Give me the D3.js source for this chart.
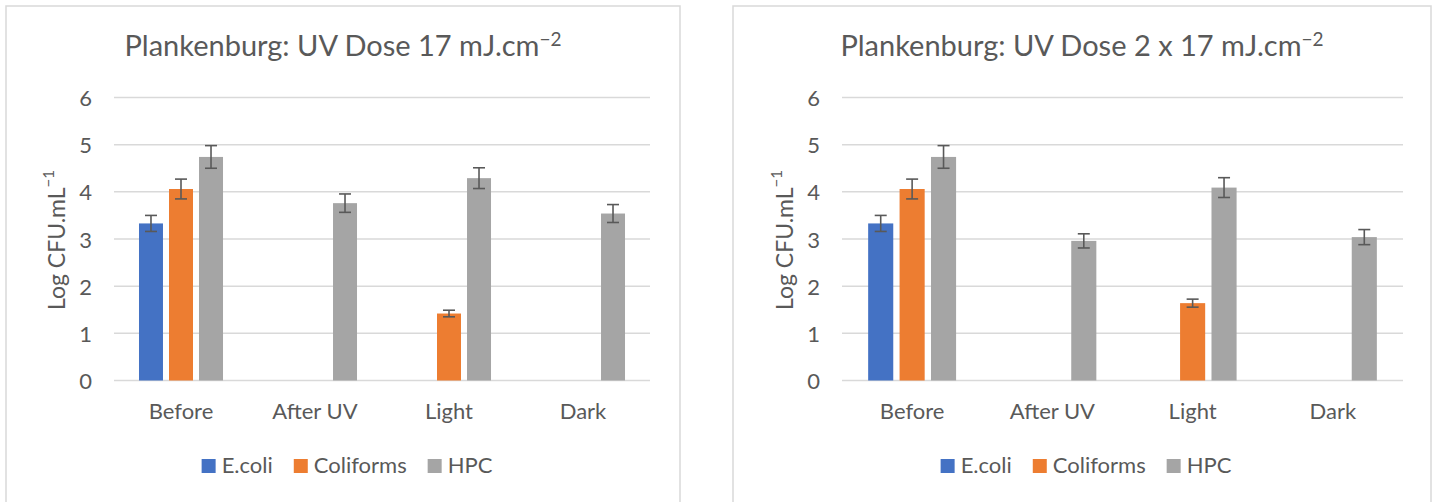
<!DOCTYPE html>
<html>
<head>
<meta charset="utf-8">
<script src="https://cdn.jsdelivr.net/npm/d3@7"></script>
<style>
  html, body { margin: 0; padding: 0; background: #fff; }
  svg { display: block; }
  text { font-family: Lato, "Open Sans", sans-serif; fill: #595959; }
</style>
</head>
<body>
<svg id="chart" width="1433" height="502"></svg>
<script>
// Sampling stages and bacterial groups
const categories = ["Before", "After UV", "Light", "Dark"];
const seriesNames = ["E.coli", "Coliforms", "HPC"];
const seriesColors = ["#4472C4", "#ED7D31", "#A5A5A5"];
const yTicks = [0, 1, 2, 3, 4, 5, 6];

// UV dose 17 mJ/cm² — mean log counts (null = not detected) and error half-widths
const ecoliDose1 = [3.33, null, null, null];
const coliformsDose1 = [4.06, null, 1.42, null];
const hpcDose1 = [4.74, 3.76, 4.29, 3.54];
const ecoliErrDose1 = [0.17, null, null, null];
const coliformsErrDose1 = [0.21, null, 0.07, null];
const hpcErrDose1 = [0.24, 0.195, 0.22, 0.19];

// UV dose 2 x 17 mJ/cm²
const ecoliDose2 = [3.33, null, null, null];
const coliformsDose2 = [4.06, null, 1.64, null];
const hpcDose2 = [4.74, 2.96, 4.09, 3.04];
const ecoliErrDose2 = [0.17, null, null, null];
const coliformsErrDose2 = [0.21, null, 0.085, null];
const hpcErrDose2 = [0.24, 0.15, 0.21, 0.16];

const svg = d3.select("#chart");

function drawPanel(cfg) {
  const g = svg.append("g");

  // panel frame
  g.append("rect")
    .attr("x", cfg.left).attr("y", 6)
    .attr("width", cfg.right - cfg.left).attr("height", 520)
    .attr("fill", "#fff").attr("stroke", "#D9D9D9").attr("stroke-width", 1.5);

  const x = d3.scaleBand().domain(categories).range([cfg.plotLeft, cfg.plotRight]);
  const y = d3.scaleLinear().domain([0, 6]).range([380.5, 97.5]);

  // horizontal gridlines
  g.append("g").selectAll("line").data(yTicks).join("line")
    .attr("x1", cfg.plotLeft).attr("x2", cfg.plotRight)
    .attr("y1", d => y(d)).attr("y2", d => y(d))
    .attr("stroke", "#D9D9D9").attr("stroke-width", 1.5);

  // y tick labels
  g.append("g").selectAll("text").data(yTicks).join("text")
    .attr("x", cfg.plotLeft - 22).attr("y", d => y(d))
    .attr("text-anchor", "end").attr("dominant-baseline", "central")
    .style("font-size", "22px")
    .text(d => d);

  // category labels
  g.append("g").selectAll("text").data(categories).join("text")
    .attr("x", d => x(d) + x.bandwidth() / 2).attr("y", 419)
    .attr("text-anchor", "middle")
    .style("font-size", "22px")
    .text(d => d);

  // clustered bars with error bars
  const bw = x.bandwidth();
  const barW = bw * 0.179;
  const step = bw * 0.224;
  cfg.series.forEach((vals, si) => {
    const errs = cfg.errors[si];
    const items = categories.map((c, i) => ({ c, v: vals[i], e: errs[i] })).filter(d => d.v != null);
    const center = d => x(d.c) + bw / 2 + (si - 1) * step;
    g.append("g").selectAll("rect").data(items).join("rect")
      .attr("x", d => center(d) - barW / 2)
      .attr("width", barW)
      .attr("y", d => y(d.v))
      .attr("height", d => y(0) - y(d.v))
      .attr("fill", seriesColors[si]);

    const eg = g.append("g").attr("stroke", "#595959").attr("stroke-width", 1.6);
    eg.selectAll("line.v").data(items).join("line").attr("class", "v")
      .attr("x1", center).attr("x2", center)
      .attr("y1", d => y(d.v + d.e)).attr("y2", d => y(d.v - d.e));
    eg.selectAll("line.t").data(items).join("line").attr("class", "t")
      .attr("x1", d => center(d) - 6).attr("x2", d => center(d) + 6)
      .attr("y1", d => y(d.v + d.e)).attr("y2", d => y(d.v + d.e));
    eg.selectAll("line.b").data(items).join("line").attr("class", "b")
      .attr("x1", d => center(d) - 6).attr("x2", d => center(d) + 6)
      .attr("y1", d => y(d.v - d.e)).attr("y2", d => y(d.v - d.e));
  });

  // title with superscript exponent
  const mid = (cfg.left + cfg.right) / 2;
  const title = g.append("text")
    .attr("x", mid).attr("y", 56)
    .attr("text-anchor", "middle")
    .style("font-size", "29px");
  title.append("tspan").text(cfg.title);
  title.append("tspan").attr("dy", "-0.55em").style("font-size", "19px").text("\u22122");

  // y axis title
  const yt = g.append("text")
    .attr("transform", `translate(${cfg.plotLeft - 58},240) rotate(-90)`)
    .attr("text-anchor", "middle").attr("dominant-baseline", "central")
    .style("font-size", "23px");
  yt.append("tspan").text("Log CFU.mL");
  yt.append("tspan").attr("dy", "-0.55em").style("font-size", "15px").text("\u22121");

  // legend
  const lg = g.append("g");
  const items = lg.selectAll("g").data(seriesNames).join("g");
  items.append("rect").attr("width", 14).attr("height", 14).attr("y", 459)
    .attr("fill", (d, i) => seriesColors[i]);
  items.append("text").attr("x", 20).attr("y", 473).style("font-size", "22px").text(d => d);
  const widths = [];
  items.each(function () {
    widths.push(20 + d3.select(this).select("text").node().getComputedTextLength());
  });
  const gap = 21;
  const total = d3.sum(widths) + gap * (widths.length - 1);
  let start = mid - total / 2 + 4;
  items.attr("transform", (d, i) => {
    const t = `translate(${start},0)`;
    start += widths[i] + gap;
    return t;
  });
}

drawPanel({
  left: 6, right: 680, plotLeft: 114, plotRight: 650,
  title: "Plankenburg: UV Dose 17 mJ.cm",
  series: [ecoliDose1, coliformsDose1, hpcDose1],
  errors: [ecoliErrDose1, coliformsErrDose1, hpcErrDose1]
});

drawPanel({
  left: 733, right: 1431, plotLeft: 842, plotRight: 1403,
  title: "Plankenburg: UV Dose 2 x 17 mJ.cm",
  series: [ecoliDose2, coliformsDose2, hpcDose2],
  errors: [ecoliErrDose2, coliformsErrDose2, hpcErrDose2]
});
</script>
</body>
</html>
